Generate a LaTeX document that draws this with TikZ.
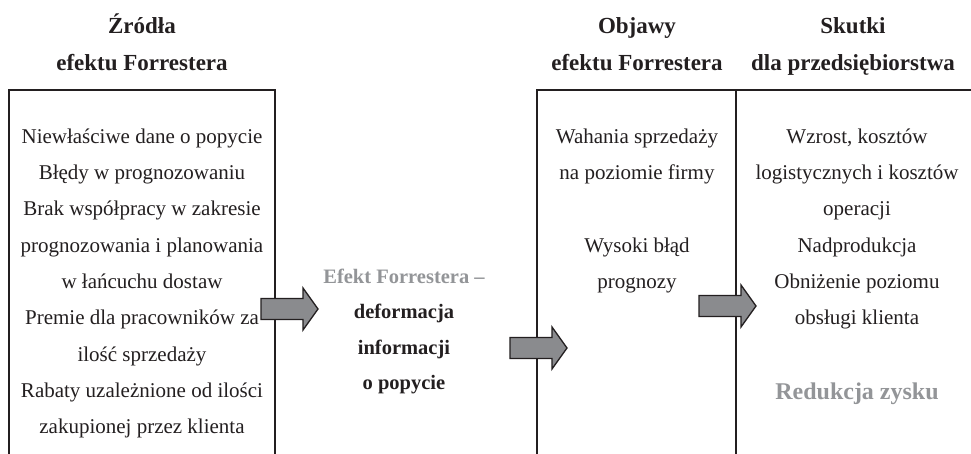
\documentclass[tikz,border=0pt]{standalone}
\usepackage{fontspec}
\setmainfont{Liberation Serif}
\definecolor{ink}{HTML}{231F20}
\definecolor{greytext}{HTML}{939598}
\definecolor{arrowgrey}{HTML}{8A8B8E}
\begin{document}
\begin{tikzpicture}[x=1pt,y=-1pt,
  frame/.style={draw=ink, line width=2pt},
  body/.style={inner sep=0pt, anchor=north, align=center, text=ink, font=\fontsize{21}{36.3}\selectfont},
  header/.style={inner sep=0pt, anchor=north, align=center, text=ink, font=\fontsize{23}{37.5}\selectfont\bfseries},
  centre/.style={inner sep=0pt, anchor=north, align=center, text=ink, font=\fontsize{20.5}{35.5}\selectfont\bfseries},
  result/.style={inner sep=0pt, anchor=base, text=greytext, font=\fontsize{24}{28}\selectfont\bfseries},
  arrowbody/.style={draw=ink, fill=arrowgrey, line width=1.3pt, line join=miter},
  blockarrow/.pic={\path[arrowbody] (0,-10.5) -- (42,-10.5) -- (42,-21) -- (57,0) -- (42,21) -- (42,10.5) -- (0,10.5) -- cycle;}
]
\useasboundingbox (0,0) rectangle (971,454);
\fill[white] (0,0) rectangle (971,454);

% frames
\draw[frame] (9,460) -- (9,90) -- (275,90) -- (275,460);
\draw[frame] (537,460) -- (537,90) -- (975,90);
\draw[frame] (736,90) -- (736,460);

% headers
\node[header] (h1) at (142,6.75) {\strut Źródła\\efektu Forrestera};
\node[header] (h2) at (637,6.75) {\strut Objawy\\efektu Forrestera};
\node[header] (h3) at (853,6.75) {\strut Skutki\\dla przedsiębiorstwa};

% column texts
\node[body] (src) at (142,117.6) {\strut Niewłaściwe dane o popycie\\Błędy w prognozowaniu\\Brak współpracy w zakresie\\prognozowania i planowania\\w łańcuchu dostaw\\Premie dla pracowników za\\ilość sprzedaży\\Rabaty uzależnione od ilości\\zakupionej przez klienta};
\node[body] (sym) at (637,117.6) {\strut Wahania sprzedaży\\na poziomie firmy\\[36.3pt]Wysoki błąd\\prognozy};
\node[body] (eff) at (857,117.6) {\strut Wzrost, kosztów\\logistycznych i kosztów\\operacji\\Nadprodukcja\\Obniżenie poziomu\\obsługi klienta};
\node[result] (red) at (857,399) {Redukcja zysku};

% central text
\node[centre] (mid) at (404,258.2) {\strut{\color{greytext}Efekt Forrestera –}\\deformacja\\informacji\\o popycie};

% block arrows
\pic at (261,309) {blockarrow};
\pic at (510,348) {blockarrow};
\pic at (699,306) {blockarrow};
\end{tikzpicture}
\end{document}
